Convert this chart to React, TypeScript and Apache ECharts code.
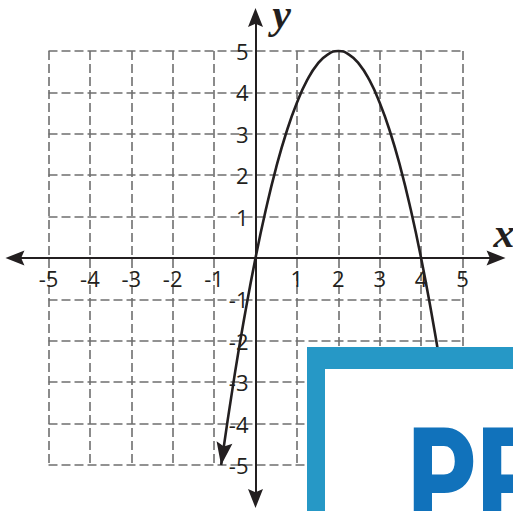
import React, { useEffect, useRef } from "react";
import * as echarts from "echarts";

// Tick values for both axes
const tickMin = -5;
const tickMax = 5;
const tickStep = 1;

// Parabola points
const curveX = [-0.83, -0.5, -0.25, 0, 0.25, 0.5, 0.75, 1, 1.25, 1.5, 1.75, 2, 2.25, 2.5, 2.75, 3, 3.25, 3.5, 3.75, 4, 4.25, 4.45];
const curveY = [-5, -2.8, -1.33, 0, 1.17, 2.19, 3.05, 3.75, 4.3, 4.69, 4.92, 5, 4.92, 4.69, 4.3, 3.75, 3.05, 2.19, 1.17, 0, -1.33, -2.5];

// Arrowhead at the lower-left end of the curve
const curveArrowPoint = [-0.79, -4.73];
const curveArrowAngle = 171.5;

// Extent of the arrowed axes (arrow centres)
const axisArrowExtent = 5.81;

// Axis names
const xName = "x";
const yName = "y";

// Overlay logo text
const logoText = "PP";

const ink = "#231f20";
const gridGray = "#6f6f6f";
const arrowPath = "path://M0,0L7,20L0,16.5L-7,20Z";

const W = 513;
const H = 511;
const GRID = { left: 48.5, right: 50.5, top: 51, bottom: 46 };

export default function App() {
  const ref = useRef<HTMLDivElement>(null);

  useEffect(() => {
    if (!ref.current) return;
    const chart = echarts.init(ref.current, undefined, { renderer: "svg" });

    const labelStyle = {
      fontFamily: "'Open Sans', sans-serif",
      fontSize: 22,
      color: ink,
    };
    const fmt = (v: number) => (v === 0 ? "" : String(v));

    const gridW = W - GRID.left - GRID.right;
    const gridH = H - GRID.top - GRID.bottom;

    const mkAxis = () => ({
      type: "value" as const,
      min: tickMin,
      max: tickMax,
      interval: tickStep,
      axisLine: { show: true, onZero: false, lineStyle: { color: ink, width: 2 } },
      axisTick: { show: false },
      splitLine: {
        show: true,
        lineStyle: { type: [9, 4], color: gridGray, width: 1.6 },
      },
    });

    const curveData = curveX.map((x, i) => [x, curveY[i]]);
    const axisArrowSize = [15, 19];
    const e = axisArrowExtent;

    chart.setOption({
      animation: false,
      backgroundColor: "#ffffff",
      grid: { ...GRID, containLabel: false, outerBoundsMode: "none" },
      xAxis: {
        ...mkAxis(),
        position: "bottom",
        offset: -gridH / 2,
        name: xName,
        nameLocation: "end",
        nameGap: 31,
        nameTextStyle: {
          fontFamily: "'Liberation Serif', serif",
          fontStyle: "italic",
          fontWeight: "bold",
          fontSize: 42,
          color: ink,
          verticalAlign: "bottom",
          padding: [0, 0, 4, 0],
        },
        axisLabel: { ...labelStyle, margin: 9, formatter: fmt },
      },
      yAxis: {
        ...mkAxis(),
        position: "left",
        offset: -gridW / 2,
        name: yName,
        nameLocation: "end",
        nameGap: 16,
        nameTextStyle: {
          fontFamily: "'Liberation Serif', serif",
          fontStyle: "italic",
          fontWeight: "bold",
          fontSize: 42,
          color: ink,
          padding: [0, 0, 0, 52],
        },
        axisLabel: { ...labelStyle, margin: 7, formatter: fmt },
      },
      series: [
        {
          type: "lines",
          name: "axisLines",
          coordinateSystem: "cartesian2d",
          clip: false,
          silent: true,
          z: 5,
          symbol: ["none", "none"],
          lineStyle: { color: ink, width: 2, opacity: 1 },
          data: [
            { coords: [[-e, 0], [e, 0]] },
            { coords: [[0, -e], [0, e]] },
          ],
        },
        {
          type: "line",
          name: "axisArrowHeads",
          clip: false,
          silent: true,
          z: 6,
          data: [
            { value: [-e, 0], symbol: arrowPath, symbolRotate: 90, symbolSize: axisArrowSize },
            { value: [e, 0], symbol: arrowPath, symbolRotate: -90, symbolSize: axisArrowSize },
            { value: [0, -e], symbol: arrowPath, symbolRotate: 180, symbolSize: axisArrowSize },
            { value: [0, e], symbol: arrowPath, symbolRotate: 0, symbolSize: axisArrowSize },
          ],
          showSymbol: true,
          lineStyle: { width: 0, opacity: 0 },
          itemStyle: { color: ink },
        },
        {
          type: "line",
          name: "curve",
          clip: false,
          silent: true,
          z: 6,
          smooth: true,
          showSymbol: false,
          symbol: "none",
          data: curveData,
          lineStyle: { color: ink, width: 2.6 },
        },
        {
          type: "line",
          name: "curveArrow",
          clip: false,
          silent: true,
          z: 7,
          data: [
            { value: curveArrowPoint, symbol: arrowPath, symbolRotate: curveArrowAngle, symbolSize: [16, 23] },
          ],
          showSymbol: true,
          lineStyle: { width: 0, opacity: 0 },
          itemStyle: { color: ink },
        },
      ],
      graphic: [
        {
          type: "rect",
          z: 100,
          silent: true,
          shape: { x: 307, y: 347, width: 260, height: 220 },
          style: { fill: "#2698c6" },
        },
        {
          type: "rect",
          z: 101,
          silent: true,
          shape: { x: 325, y: 369, width: 240, height: 200 },
          style: { fill: "#ffffff" },
        },
        {
          type: "text",
          z: 102,
          silent: true,
          x: 408,
          y: 479,
          scaleX: 0.76,
          style: {
            text: logoText,
            fill: "#1172bb",
            fontFamily: "Roboto, 'DejaVu Sans', sans-serif",
            fontWeight: 900,
            fontSize: 140,
            align: "left",
            verticalAlign: "middle",
          },
        },
      ],
    });

    return () => chart.dispose();
  }, []);

  return (
    <div
      ref={ref}
      style={{ position: "absolute", left: 0, top: 0, width: W, height: H }}
    />
  );
}
